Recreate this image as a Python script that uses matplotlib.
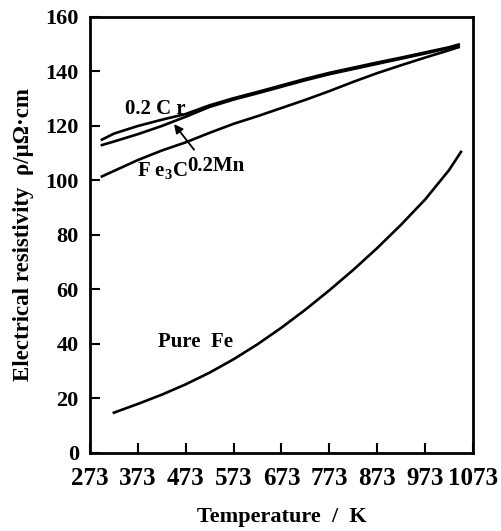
import matplotlib
matplotlib.use("Agg")
import matplotlib.pyplot as plt

# Temperature grid (K) and resistivity (μΩ·cm) of each material
temp_alloy = [298, 323, 373, 423, 473, 523, 573, 623, 673, 723, 773, 823, 873, 923, 973, 1023, 1043]
rho_cr = [115.0, 117.2, 120.0, 122.3, 124.4, 127.6, 130.2, 132.5, 134.9, 137.3, 139.5, 141.4, 143.3, 145.1, 147.0, 148.9, 149.9]
rho_mn = [113.0, 114.3, 117.0, 120.0, 123.4, 127.0, 129.7, 132.0, 134.4, 136.8, 139.0, 140.9, 142.8, 144.7, 146.6, 148.6, 149.6]
rho_fe3c = [101.5, 103.5, 107.5, 111.0, 114.0, 117.5, 120.8, 123.6, 126.6, 129.6, 132.8, 136.2, 139.4, 142.3, 145.1, 147.8, 148.9]

temp_fe = [323, 373, 423, 473, 523, 573, 623, 673, 723, 773, 823, 873, 923, 973, 1023, 1048]
rho_fe = [14.8, 18.0, 21.4, 25.2, 29.5, 34.4, 39.9, 46.0, 52.6, 59.7, 67.2, 75.2, 83.8, 93.0, 103.8, 110.5]

x_ticks = [273, 373, 473, 573, 673, 773, 873, 973, 1073]
y_ticks = [0, 20, 40, 60, 80, 100, 120, 140, 160]

plt.rcParams['font.family'] = ['Liberation Serif', 'DejaVu Serif']
plt.rcParams['mathtext.fontset'] = 'custom'
plt.rcParams['mathtext.rm'] = 'Liberation Serif:bold'
plt.rcParams['mathtext.bf'] = 'Liberation Serif:bold'

fig = plt.figure(figsize=(5.01, 5.31), dpi=100)
ax = fig.add_axes([0.1796, 0.1469, 0.7644, 0.8211])

lw = 1.9
ax.plot(temp_alloy, rho_cr, color='black', lw=lw)
ax.plot(temp_alloy, rho_mn, color='black', lw=lw)
ax.plot(temp_alloy, rho_fe3c, color='black', lw=lw)
ax.plot(temp_fe, rho_fe, color='black', lw=lw)

ax.set_xlim(273, 1073)
ax.set_ylim(0, 160)
ax.set_xticks(x_ticks)
ax.set_yticks(y_ticks)
ax.set_xticklabels([str(t) for t in x_ticks], fontsize=18, fontweight='bold')
ax.set_yticklabels([str(v) for v in y_ticks], fontsize=16, fontweight='bold')
ax.tick_params(axis='x', direction='in', length=7, width=1.5, pad=10)
ax.tick_params(axis='y', direction='in', length=7, width=1.5, pad=8)

for s in ax.spines.values():
    s.set_linewidth(2.0)

ax.set_xlabel('Temperature  /  K', fontsize=16, fontweight='bold', labelpad=12)
ax.set_ylabel('Electrical resistivity  ρ/μΩ·cm', fontsize=16.5, fontweight='bold', labelpad=8)

# Curve labels
ax.text(346, 126.2, '0.2 C r', fontsize=15, fontweight='bold', ha='left', va='center')
ax.text(371, 103.5, r'F e$_3$C', fontsize=15, fontweight='bold', ha='left', va='center')
ax.text(477, 105.5, '0.2Mn', fontsize=15, fontweight='bold', ha='left', va='center')
ax.text(415, 40.6, 'Pure  Fe', fontsize=15, fontweight='bold', ha='left', va='center')
ax.annotate('', xy=(445, 121.5), xytext=(494, 110.5),
            arrowprops=dict(arrowstyle='-|>', color='black', lw=1.3,
                            mutation_scale=13))

fig.savefig('out.png', dpi=100)
